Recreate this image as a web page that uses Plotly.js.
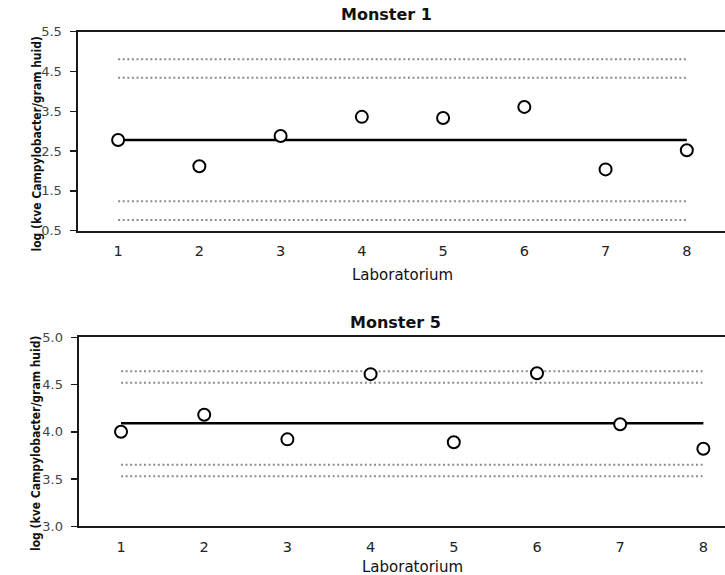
<!DOCTYPE html>
<html>
<head>
<meta charset="utf-8">
<script src="https://cdn.plot.ly/plotly-3.0.1.min.js"></script>
<style>
  html, body { margin: 0; padding: 0; background: #fff; overflow: hidden; }
  #chart { width: 725px; height: 575px; }
</style>
</head>
<body>
<div id="chart"></div>
<script>
// Laboratory numbers on the x axis
const labs = [1, 2, 3, 4, 5, 6, 7, 8];

// Monster 1: per-lab results, mean line and the two pairs of limit lines
const m1Values = [2.78, 2.12, 2.88, 3.36, 3.33, 3.61, 2.04, 2.52];
const m1Mean = 2.78;
const m1Limits = [4.81, 4.34, 1.24, 0.77];
const m1Ticks = [0.5, 1.5, 2.5, 3.5, 4.5, 5.5];

// Monster 5: per-lab results, mean line and limit lines
const m5Values = [4.00, 4.18, 3.92, 4.61, 3.89, 4.62, 4.08, 3.82];
const m5Mean = 4.09;
const m5Limits = [4.64, 4.52, 3.65, 3.53];
const m5Ticks = [3.0, 3.5, 4.0, 4.5, 5.0];

const W = 725, H = 575;
const px = v => v / W;          // horizontal pixel -> paper fraction
const py = v => 1 - v / H;      // vertical pixel (from top) -> paper fraction

const FONT = 'DejaVu Sans';
const FONT_NARROW = 'DejaVu Sans Condensed, DejaVu Sans';
const yTitle = 'log (kve Campylobacter/gram huid)';

function hline(xa, ya, y, dotted) {
  return {
    type: 'scatter', mode: 'lines', xaxis: xa, yaxis: ya,
    x: [labs[0], labs[labs.length - 1]], y: [y, y],
    line: dotted ? { color: '#8c8c8c', width: 2, dash: '2px,2.6px' }
                 : { color: '#000', width: 2.5 },
    hoverinfo: 'skip', showlegend: false
  };
}

function points(xa, ya, vals) {
  return {
    type: 'scatter', mode: 'markers', xaxis: xa, yaxis: ya,
    x: labs, y: vals,
    marker: { symbol: 'circle', size: 12, color: '#fff', line: { color: '#000', width: 2 } },
    showlegend: false, cliponaxis: false
  };
}

const traces = [];
m1Limits.forEach(v => traces.push(hline('x', 'y', v, true)));
traces.push(hline('x', 'y', m1Mean, false));
traces.push(points('x', 'y', m1Values));
m5Limits.forEach(v => traces.push(hline('x2', 'y2', v, true)));
traces.push(hline('x2', 'y2', m5Mean, false));
traces.push(points('x2', 'y2', m5Values));

function xAxis(domainLeft, range, anchor) {
  return {
    domain: [px(domainLeft), 1], range: range, anchor: anchor,
    tickvals: labs, ticktext: labs.map(String), ticks: '',
    showgrid: false, zeroline: false,
    showline: true, linecolor: '#1a1a1a', linewidth: 2, mirror: true,
    tickfont: { family: FONT, size: 14.5, color: '#222' },
    ticklabelstandoff: 6, fixedrange: true
  };
}

function yAxis(top, bottom, range, ticks, anchor) {
  return {
    domain: [py(bottom), py(top)], range: range, anchor: anchor,
    tickvals: ticks, ticktext: ticks.map(t => t.toFixed(1)),
    ticks: 'outside', ticklen: 6, tickwidth: 1.5, tickcolor: '#1a1a1a',
    showgrid: false, zeroline: false,
    showline: true, linecolor: '#1a1a1a', linewidth: 2,
    tickfont: { family: FONT, size: 13, color: '#444' },
    ticklabelstandoff: 5, fixedrange: true
  };
}

function label(text, x, y, size, bold, angle, family) {
  return {
    xref: 'paper', yref: 'paper', x: px(x), y: py(y),
    xanchor: 'center', yanchor: 'middle', showarrow: false,
    text: bold ? '<b>' + text + '</b>' : text, textangle: angle || 0,
    font: { family: family || FONT, size: size, color: '#111' }
  };
}

const layout = {
  width: W, height: H,
  margin: { l: 0, r: 0, t: 0, b: 0 },
  paper_bgcolor: '#fff', plot_bgcolor: '#fff',
  showlegend: false,
  xaxis: xAxis(77.5, [0.5, 8.47], 'y'),
  yaxis: yAxis(31.7, 230.7, [0.5, 5.5], m1Ticks, 'x'),
  xaxis2: xAxis(78.6, [0.49, 8.26], 'y2'),
  yaxis2: yAxis(337.3, 526.3, [3, 5], m5Ticks, 'x2'),
  annotations: [
    label('Monster 1', 386, 15, 16, true),
    label('Monster 5', 395, 322, 16, true),
    label('Laboratorium', 402.5, 275, 15, false),
    label('Laboratorium', 412, 567, 15, false),
    label(yTitle, 36, 144.5, 12, true, -90, FONT_NARROW),
    label(yTitle, 36, 444, 12, true, -90, FONT_NARROW)
  ]
};

Plotly.newPlot('chart', traces, layout, { displayModeBar: false, staticPlot: true });
</script>
</body>
</html>
